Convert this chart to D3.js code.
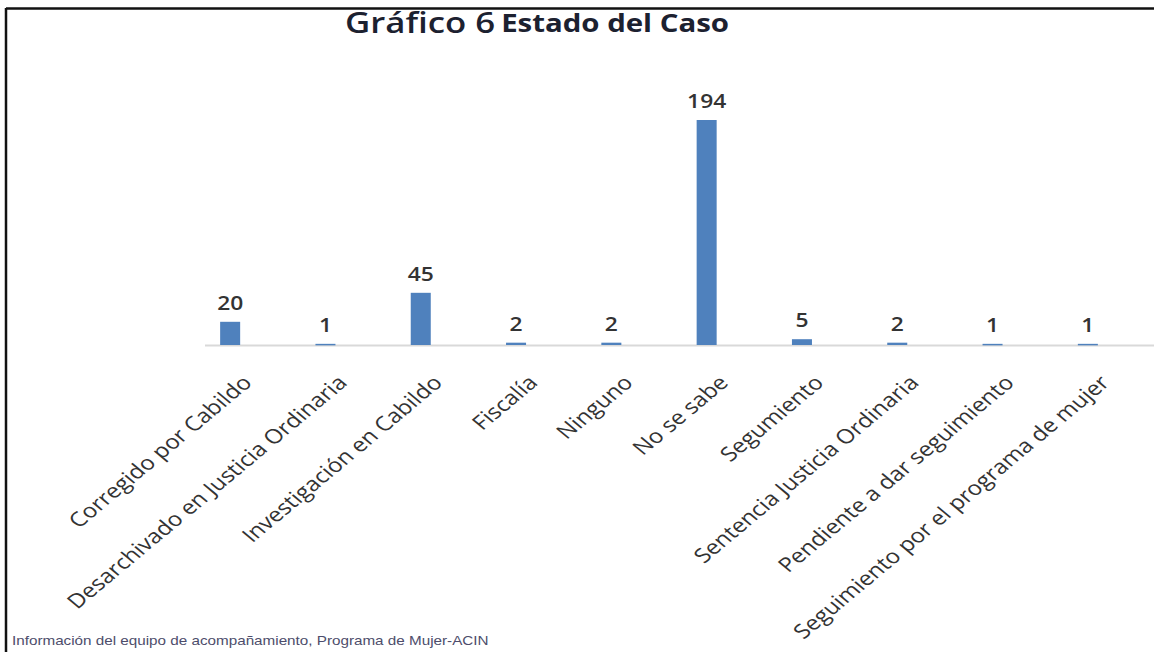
<!DOCTYPE html>
<html>
<head>
<meta charset="utf-8">
<script src="https://cdn.jsdelivr.net/npm/d3@7"></script>
<style>
  body { margin: 0; background: #fff; }
  svg { display: block; }
</style>
</head>
<body>
<svg id="chart" width="1154" height="652"></svg>
<script>
const categories = [
  'Corregido por Cabildo',
  'Desarchivado en Justicia Ordinaria',
  'Investigación en Cabildo',
  'Fiscalía',
  'Ninguno',
  'No se sabe',
  'Segumiento',
  'Sentencia Justicia Ordinaria',
  'Pendiente a dar seguimiento',
  'Seguimiento por el programa de mujer',
];
const values = [20, 1, 45, 2, 2, 194, 5, 2, 1, 1];
const titleMain = 'Gráfico 6';
const titleSub = 'Estado del Caso';
const sourceNote = 'Información del equipo de acompañamiento, Programa de Mujer-ACIN';

const svg = d3.select('#chart');
const W = 1154, H = 652;
const baseY = 345;
const stretch = 1.2; // the scanned chart is wider than tall, text looks stretched
const barColor = '#4f81bd';
const labelFont = '"Open Sans", "DejaVu Sans", sans-serif';

const data = categories.map((c, i) => ({ cat: c, value: values[i] }));

const x = d3.scaleBand()
  .domain(categories)
  .range([182.5, 1135.5])
  .paddingInner(0.79)
  .paddingOuter(0.395);

const y = d3.scaleLinear()
  .domain([0, 194])
  .range([baseY, 120]);

const cx = d => x(d.cat) + x.bandwidth() / 2;

// frame (scan border on left/top)
svg.append('line')
  .attr('x1', 6).attr('x2', W).attr('y1', 8.5).attr('y2', 8.5)
  .style('stroke', '#111').style('stroke-width', 2.5);
svg.append('line')
  .attr('x1', 6).attr('x2', 6).attr('y1', 8).attr('y2', H)
  .style('stroke', '#111').style('stroke-width', 2.5);

// title
const title = svg.append('text')
  .attr('transform', `translate(345,33) scale(${stretch},1)`)
  .style('font-family', labelFont)
  .style('fill', '#1c2130');
title.append('tspan')
  .style('font-size', '29px')
  .style('font-weight', 600)
  .text(titleMain);
title.append('tspan')
  .attr('dx', 5)
  .attr('dy', -1)
  .style('font-size', '24.5px')
  .style('font-weight', 700)
  .text(titleSub);

// baseline
svg.append('line')
  .attr('x1', 205).attr('x2', W)
  .attr('y1', baseY + 0.5).attr('y2', baseY + 0.5)
  .style('stroke', '#d9d9d9')
  .style('stroke-width', 2);

// bars
svg.append('g').attr('class', 'bars')
  .selectAll('rect')
  .data(data)
  .join('rect')
    .attr('x', d => x(d.cat))
    .attr('y', d => y(d.value))
    .attr('width', x.bandwidth())
    .attr('height', d => Math.max(baseY - y(d.value), 1.5))
    .style('fill', barColor);

// value labels
svg.append('g').attr('class', 'value-labels')
  .selectAll('text')
  .data(data)
  .join('text')
    .attr('transform', d => `translate(${cx(d)},${Math.min(y(d.value), baseY - 1) - 12}) scale(${stretch},1)`)
    .attr('text-anchor', 'middle')
    .style('font-family', labelFont)
    .style('font-size', '19px')
    .style('font-weight', 600)
    .style('fill', '#333')
    .text(d => d.value);

// category labels, rotated
svg.append('g').attr('class', 'cat-labels')
  .selectAll('text')
  .data(data)
  .join('text')
    .attr('transform', d => `translate(${cx(d) + 17},${baseY + 34}) scale(${stretch},1) rotate(-45)`)
    .attr('text-anchor', 'end')
    .attr('dy', '0.35em')
    .style('font-family', labelFont)
    .style('font-size', '20px')
    .style('fill', '#333')
    .text(d => d.cat);

// source note
svg.append('text')
  .attr('transform', `translate(12,645) scale(${stretch},1)`)
  .style('font-family', '"Liberation Sans", Arial, sans-serif')
  .style('font-size', '12.7px')
  .style('fill', '#4d4d6b')
  .text(sourceNote);
</script>
</body>
</html>
